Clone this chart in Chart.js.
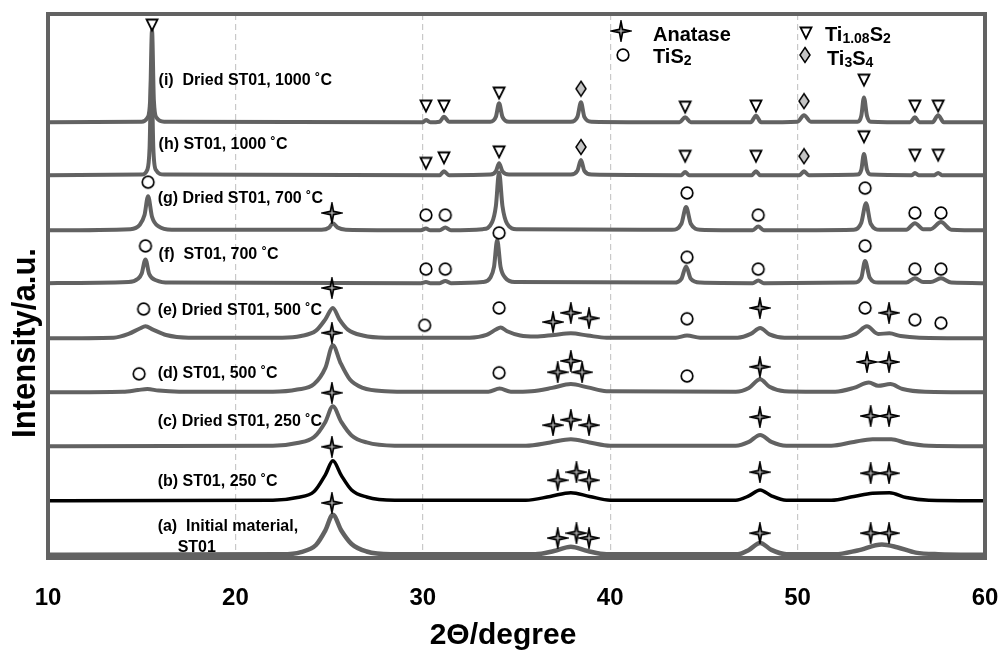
<!DOCTYPE html>
<html><head><meta charset="utf-8">
<script src="https://cdn.jsdelivr.net/npm/chart.js@4.4.1/dist/chart.umd.min.js"></script>
<style>html,body{margin:0;padding:0;background:#fff}#wrap{width:1000px;height:652px}</style>
</head><body><div id="wrap"><canvas id="c" width="1000" height="652"></canvas></div>
<script>
// ---------------- DATA ----------------
const xTicks = [10, 20, 30, 40, 50, 60];
const sampleLabels = [
  ["(a)  Initial material,", "ST01"],
  ["(b) ST01, 250 ˚C"],
  ["(c) Dried ST01, 250 ˚C"],
  ["(d) ST01, 500 ˚C"],
  ["(e) Dried ST01, 500 ˚C"],
  ["(f)  ST01, 700 ˚C"],
  ["(g) Dried ST01, 700 ˚C"],
  ["(h) ST01, 1000 ˚C"],
  ["(i)  Dried ST01, 1000 ˚C"]
];
// vertical offset of each pattern (a..i)
const offsets = [0.06, 1.06, 2.07, 3.07, 4.07, 5.09, 6.07, 7.09, 8.07];

// patterns: [2theta, intensity above own baseline]
const traceA = [[10,0],[22.5,0.01],[23.5,0.05],[24.3,0.18],[24.8,0.45],[25.2,0.74],[25.65,0.45],[26.2,0.2],[27.0,0.06],[28.3,0.01],
  [36.0,0.01],[37.0,0.07],[37.9,0.15],[38.8,0.07],[39.8,0.01],
  [46.8,0.01],[47.4,0.09],[48.0,0.22],[48.6,0.09],[49.4,0.01],
  [52.0,0.01],[53.2,0.08],[54.5,0.19],[55.3,0.14],[56.3,0.04],[57.5,0.01],[60,0]];
const traceB = [[10,0],[22.0,0.01],[23.3,0.06],[24.2,0.17],[24.8,0.48],[25.2,0.74],[25.65,0.47],[26.2,0.2],[27.0,0.07],[28.5,0.01],
  [35.5,0.01],[36.8,0.08],[37.9,0.15],[38.9,0.08],[40.0,0.01],
  [46.7,0.01],[47.4,0.09],[48.0,0.2],[48.6,0.09],[49.4,0.01],
  [51.8,0.01],[53.0,0.08],[54.0,0.14],[54.9,0.15],[55.8,0.06],[57.0,0.01],[60,0]];
const traceC = [[10,0],[22.0,0.01],[23.3,0.06],[24.2,0.17],[24.8,0.45],[25.2,0.74],[25.65,0.45],[26.2,0.2],[27.0,0.07],[28.5,0.01],
  [35.5,0.01],[36.8,0.07],[37.9,0.13],[38.9,0.07],[40.0,0.01],
  [46.7,0.01],[47.4,0.08],[48.0,0.21],[48.6,0.08],[49.4,0.01],
  [51.8,0.01],[53.0,0.08],[54.0,0.13],[55.0,0.13],[55.8,0.06],[57.0,0.01],[60,0]];
const traceD = [[10,0],[14.0,0.01],[14.8,0.04],[15.3,0.06],[15.9,0.03],[17.0,0.01],
  [22.0,0.01],[23.3,0.05],[24.2,0.15],[24.8,0.45],[25.2,0.87],[25.6,0.55],[26.1,0.24],[26.8,0.08],[28.0,0.02],[29.5,0.01],
  [33.5,0.01],[34.1,0.07],[34.7,0.01],
  [35.8,0.02],[36.9,0.08],[37.9,0.15],[38.8,0.09],[39.8,0.02],
  [46.7,0.01],[47.4,0.08],[48.0,0.24],[48.5,0.1],[49.3,0.02],
  [52.0,0.01],[53.0,0.08],[53.8,0.18],[54.3,0.12],[54.95,0.15],[55.6,0.06],[56.8,0.01],[60,0]];
const traceE = [[10,0],[13.5,0.01],[14.3,0.08],[14.9,0.18],[15.2,0.22],[15.6,0.16],[16.3,0.06],[17.5,0.01],
  [22.5,0.01],[23.5,0.04],[24.3,0.14],[24.8,0.35],[25.2,0.56],[25.55,0.35],[26.0,0.16],[26.8,0.05],[28.0,0.01],
  [32.5,0.01],[33.4,0.06],[33.9,0.16],[34.15,0.2],[34.5,0.13],[35.2,0.05],[36.0,0.03],
  [37.0,0.06],[37.9,0.09],[38.8,0.05],[39.8,0.01],
  [43.5,0.01],[44.1,0.05],[44.8,0.01],
  [46.8,0.01],[47.5,0.08],[48.0,0.19],[48.5,0.07],[49.3,0.01],
  [52.3,0.01],[53.1,0.08],[53.7,0.22],[54.3,0.08],[54.9,0.09],[55.5,0.04],[56.5,0.01],[60,0]];
const traceF = [[10,0],[14.3,0.02],[14.8,0.08],[15.0,0.18],[15.2,0.44],[15.4,0.17],[15.8,0.05],[16.5,0.01],
  [29.9,0],[30.17,0.02],[30.4,0],[30.9,0],[31.2,0.04],[31.5,0],
  [33.2,0.02],[33.6,0.1],[33.8,0.3],[33.97,0.8],[34.15,0.3],[34.4,0.1],[34.9,0.02],
  [43.4,0.01],[43.8,0.08],[44.05,0.31],[44.3,0.08],[44.8,0.01],
  [47.6,0],[47.9,0.05],[48.2,0],
  [53.0,0.01],[53.4,0.1],[53.6,0.41],[53.85,0.1],[54.3,0.01],
  [55.8,0.01],[56.26,0.09],[56.7,0.02],[57.1,0.02],[57.65,0.09],[58.2,0.01],[60,0]];
const traceG = [[10,0],[14.4,0.02],[14.9,0.1],[15.15,0.28],[15.34,0.63],[15.55,0.25],[15.9,0.07],[16.6,0.01],
  [24.6,0.01],[25.0,0.05],[25.2,0.13],[25.45,0.05],[25.9,0.01],
  [29.9,0],[30.17,0.03],[30.4,0],[30.9,0],[31.2,0.05],[31.5,0],
  [33.2,0.02],[33.7,0.15],[33.9,0.45],[34.07,1.07],[34.25,0.45],[34.5,0.12],[35.0,0.02],
  [43.3,0.01],[43.8,0.12],[44.05,0.43],[44.3,0.12],[44.8,0.01],
  [47.6,0],[47.9,0.07],[48.2,0],
  [53.0,0.01],[53.4,0.14],[53.65,0.5],[53.9,0.12],[54.4,0.01],
  [55.8,0.01],[56.26,0.13],[56.7,0.02],[57.1,0.02],[57.65,0.15],[58.2,0.01],[60,0]];
const traceH = [[10,0],[15.0,0.01],[15.3,0.1],[15.42,0.5],[15.52,1.9],[15.62,0.5],[15.75,0.1],[16.2,0.01],
  [30.9,0],[31.13,0.07],[31.4,0],
  [33.6,0.01],[33.9,0.07],[34.07,0.22],[34.25,0.07],[34.6,0.01],
  [37.9,0.01],[38.25,0.08],[38.44,0.28],[38.62,0.08],[39.0,0.01],
  [43.8,0],[44.0,0.06],[44.2,0],[47.55,0],[47.78,0.07],[48.0,0],
  [50.1,0],[50.34,0.07],[50.6,0],
  [53.2,0.01],[53.4,0.1],[53.54,0.39],[53.7,0.1],[53.9,0.01],
  [56.1,0],[56.26,0.04],[56.45,0],[57.3,0],[57.5,0.04],[57.7,0],[60,0]];
const traceI = [[10,0],[15.0,0.01],[15.3,0.08],[15.45,0.4],[15.55,1.71],[15.65,0.4],[15.8,0.08],[16.2,0.01],
  [30.0,0],[30.17,0.04],[30.4,0],[30.9,0.01],[31.13,0.1],[31.4,0.01],
  [33.6,0.01],[33.9,0.1],[34.07,0.35],[34.25,0.1],[34.6,0.01],
  [37.9,0.01],[38.25,0.1],[38.44,0.37],[38.62,0.1],[39.0,0.01],
  [43.7,0],[44.0,0.09],[44.3,0],[47.5,0],[47.78,0.12],[48.05,0],
  [50.0,0.01],[50.34,0.13],[50.7,0.01],
  [53.2,0.01],[53.4,0.12],[53.54,0.46],[53.7,0.12],[53.9,0.01],
  [56.0,0],[56.26,0.09],[56.5,0],[57.2,0],[57.5,0.13],[57.8,0],[60,0]];
const traces = [traceA, traceB, traceC, traceD, traceE, traceF, traceG, traceH, traceI];

// dashed reference segments under pattern (a)
const refSegments = [[23.1, 26.6], [36.4, 39.1], [46.8, 49.0], [52.8, 55.8]];

// phase markers [2theta, stacked height]
const anataseMarks = [[25.15,6.39],[25.15,5.0],[25.15,4.17],[25.15,3.06],[25.15,2.06],[25.15,1.02],
  [36.95,4.37],[37.9,4.54],[38.87,4.44],[47.99,4.63],[54.88,4.54],
  [37.2,3.44],[37.9,3.65],[38.5,3.44],[47.99,3.54],[53.7,3.63],[54.88,3.63],
  [36.95,2.46],[37.9,2.56],[38.87,2.46],[47.99,2.61],[53.9,2.63],[54.88,2.63],
  [37.2,1.44],[38.2,1.59],[38.87,1.44],[47.99,1.59],[53.9,1.57],[54.88,1.57],
  [37.2,0.37],[38.2,0.46],[38.87,0.37],[47.99,0.46],[53.9,0.46],[54.88,0.46]];
const tis2Marks = [[15.34,6.96],[30.17,6.35],[31.2,6.35],[44.1,6.76],[47.9,6.35],[53.6,6.85],[56.26,6.39],[57.65,6.39],
  [15.2,5.78],[30.17,5.35],[31.2,5.35],[34.07,6.02],[44.1,5.57],[47.9,5.35],[53.6,5.78],[56.26,5.35],[57.65,5.35],
  [15.1,4.61],[30.1,4.31],[34.07,4.63],[44.1,4.43],[53.6,4.63],[56.26,4.41],[57.65,4.35],
  [14.86,3.41],[34.07,3.43],[44.1,3.37]];
const ti108s2Marks = [[15.55,9.87],[30.17,8.37],[31.13,8.37],[34.07,8.61],[44.0,8.35],[47.78,8.37],[53.54,8.85],[56.26,8.37],[57.5,8.37],
  [30.17,7.31],[31.13,7.41],[34.07,7.52],[44.0,7.44],[47.78,7.44],[53.54,7.80],[56.26,7.46],[57.5,7.46]];
const ti3s4Marks = [[38.44,8.69],[50.34,8.46],[38.44,7.61],[50.34,7.44]];

const legendNames = [
  [["Anatase", false]],
  [["TiS", false], ["2", true]],
  [["Ti", false], ["1.08", true], ["S", false], ["2", true]],
  [["Ti", false], ["3", true], ["S", false], ["4", true]]
];

// ---------------- STYLE / LAYOUT ----------------
const FONT = "'Liberation Sans', Arial, sans-serif";
const GRAY = '#626262';
const labelPos = [[15.85,0.59],[15.85,1.41],[15.85,2.52],[15.85,3.41],[15.85,4.59],[15.9,5.61],[15.85,6.65],[15.9,7.65],[15.9,8.85]];

function mk(w, h, draw) {
  const c = document.createElement('canvas'); c.width = w; c.height = h;
  const g = c.getContext('2d'); draw(g, w, h); return c;
}
const starImg = mk(22, 22, (g, w, h) => {
  const cx = w/2, cy = h/2, R = 9.5, r = 2.2;
  g.beginPath();
  for (let k = 0; k < 8; k++) {
    const a = -Math.PI/2 + k*Math.PI/4, rad = (k % 2 === 0) ? R : r;
    const px = cx + rad*Math.cos(a), py = cy + rad*Math.sin(a);
    k ? g.lineTo(px, py) : g.moveTo(px, py);
  }
  g.closePath(); g.fillStyle = '#a8a8a8'; g.fill();
  g.lineWidth = 1.7; g.strokeStyle = '#000'; g.stroke();
});
const circleImg = mk(16, 16, (g) => {
  g.beginPath(); g.arc(8, 8, 5.8, 0, Math.PI*2);
  g.fillStyle = '#fff'; g.fill(); g.lineWidth = 1.7; g.strokeStyle = '#000'; g.stroke();
});
const triImg = mk(16, 16, (g) => {
  g.beginPath(); g.moveTo(2.5, 2.5); g.lineTo(13.5, 2.5); g.lineTo(8, 13.5); g.closePath();
  g.fillStyle = '#fff'; g.fill(); g.lineWidth = 1.8; g.strokeStyle = '#000'; g.stroke();
});
const diaImg = mk(14, 18, (g) => {
  g.beginPath(); g.moveTo(7, 1.5); g.lineTo(12, 9); g.lineTo(7, 16.5); g.lineTo(2, 9); g.closePath();
  g.fillStyle = '#c4c4c4'; g.fill(); g.lineWidth = 1.5; g.strokeStyle = '#000'; g.stroke();
});

// ---------------- DATASETS ----------------
const datasets = [];
traces.forEach((t, i) => {
  datasets.push({
    type: 'line',
    data: t.map(([x, v]) => ({x: x, y: offsets[i] + v})),
    borderColor: i === 1 ? '#000' : GRAY,
    borderWidth: i === 0 ? 4.5 : (i === 1 ? 3.5 : 4),
    pointRadius: 0, fill: false, cubicInterpolationMode: 'monotone',
    order: 10 + i
  });
});
const refData = [];
refSegments.forEach(([a, b]) => { refData.push({x: a, y: 0.02}, {x: b, y: 0.02}, {x: b + 0.01, y: null}); });
datasets.push({type: 'line', data: refData, borderColor: '#000', borderWidth: 1.5, borderDash: [4, 3],
  pointRadius: 0, spanGaps: false, order: 5});
[[anataseMarks, starImg], [tis2Marks, circleImg], [ti108s2Marks, triImg], [ti3s4Marks, diaImg]].forEach(([m, img]) => {
  datasets.push({type: 'line', showLine: false, data: m.map(([x, y]) => ({x, y})),
    pointStyle: img, pointRadius: 8, order: 0});
});

// ---------------- PLUGIN (frame, labels, legend, axis titles) ----------------
function drawRich(ctx, x, y, segs, big, small) {
  let cx = x;
  segs.forEach(([txt, sub]) => {
    ctx.font = 'bold ' + (sub ? small : big) + 'px ' + FONT;
    ctx.fillText(txt, cx, sub ? y + big*0.22 : y);
    cx += ctx.measureText(txt).width;
  });
}
const decor = {
  id: 'decor',
  afterDatasetsDraw(chart) {
    const {ctx, chartArea: a} = chart;
    ctx.save();
    ctx.strokeStyle = GRAY; ctx.lineWidth = 4;
    ctx.strokeRect(a.left, a.top, a.right - a.left, a.bottom - a.top);
    ctx.restore();
  },
  afterDraw(chart) {
    const {ctx, scales: {x, y}} = chart;
    ctx.save();
    ctx.fillStyle = '#000'; ctx.textBaseline = 'middle'; ctx.textAlign = 'left';
    ctx.font = 'bold 16px ' + FONT;
    sampleLabels.forEach((lines, i) => {
      const px = x.getPixelForValue(labelPos[i][0]), py = y.getPixelForValue(labelPos[i][1]);
      lines.forEach((ln, j) => ctx.fillText(ln, px + (j ? 20 : 0), py + j*21));
    });
    // legend
    const legendItems = [[starImg, 621, 31, 653, 35], [circleImg, 623, 55, 653, 57], [triImg, 806, 33, 825, 35], [diaImg, 805, 55, 827, 59]];
    legendItems.forEach(([img, sx, sy, tx, ty], k) => {
      ctx.drawImage(img, sx - img.width/2, sy - img.height/2);
      drawRich(ctx, tx, ty, legendNames[k], 20, 14);
    });
    // axis titles
    ctx.textAlign = 'center';
    ctx.font = 'bold 30px ' + FONT;
    ctx.fillText('2Θ/degree', 503, 636);
    ctx.translate(26, 343); ctx.rotate(-Math.PI/2);
    ctx.font = 'bold 33px ' + FONT;
    const w = ctx.measureText('Intensity/a.u.').width;
    ctx.scale(190 / w, 1);
    ctx.fillText('Intensity/a.u.', 0, 0);
    ctx.restore();
  }
};

new Chart(document.getElementById('c'), {
  type: 'line',
  data: {datasets},
  options: {
    responsive: false, animation: false, events: [],
    layout: {padding: {top: 14, right: 15, left: 0, bottom: 0}},
    plugins: {legend: {display: false}, tooltip: {enabled: false}},
    scales: {
      x: {
        type: 'linear', min: 10, max: 60,
        afterBuildTicks: (ax) => { ax.ticks = xTicks.map(v => ({value: v})); },
        afterFit: (ax) => { ax.height = 94; ax.paddingLeft = 0; ax.paddingRight = 0; },
        ticks: {color: '#000', font: {family: FONT, size: 24, weight: 'bold'}, padding: 26, maxRotation: 0, autoSkip: false},
        grid: {drawTicks: false, lineWidth: 1.2,
          color: (c) => (c.tick && (c.tick.value === 10 || c.tick.value === 60)) ? 'rgba(0,0,0,0)' : '#c9c9c9'},
        border: {display: false, dash: [6, 4]}
      },
      y: {
        type: 'linear', min: 0, max: 544/54,
        afterFit: (ax) => { ax.width = 48; },
        ticks: {display: false}, grid: {display: false}, border: {display: false}
      }
    }
  },
  plugins: [decor]
});
</script></body></html>
